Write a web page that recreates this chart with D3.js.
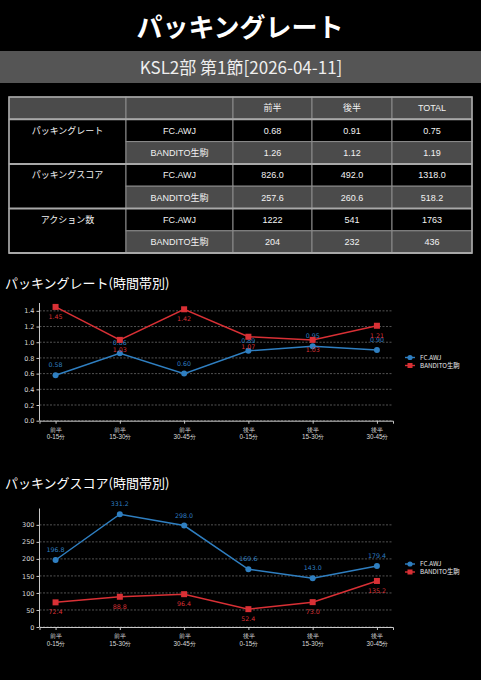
<!DOCTYPE html>
<html lang="ja">
<head>
<meta charset="UTF-8" />
<title>パッキングレート</title>
<style>
  html, body { margin: 0; padding: 0; background: #000; }
  svg { display: block; font-family: "Noto Sans CJK JP", "Noto Sans", sans-serif; }
</style>
</head>
<body>
<svg id="chart" width="481" height="680"></svg>

<script src="https://d3js.org/d3.v7.min.js"></script>
<script>
// ---- data ----
const titleText = 'パッキングレート';
const subtitleText = 'KSL2部 第1節[2026-04-11]';

const tableCols = ['前半', '後半', 'TOTAL'];
const tableMetrics = ['パッキングレート', 'パッキングスコア', 'アクション数'];
const teams = ['FC.AWJ', 'BANDITO生駒'];
const rateRows = [['0.68', '0.91', '0.75'], ['1.26', '1.12', '1.19']];
const scoreRows = [['826.0', '492.0', '1318.0'], ['257.6', '260.6', '518.2']];
const actionRows = [['1222', '541', '1763'], ['204', '232', '436']];

const periods = [['前半', '0-15分'], ['前半', '15-30分'], ['前半', '30-45分'],
                 ['後半', '0-15分'], ['後半', '15-30分'], ['後半', '30-45分']];
const rateAWJ = [0.58, 0.86, 0.60, 0.89, 0.95, 0.90];
const rateBandito = [1.45, 1.03, 1.42, 1.07, 1.03, 1.21];
const scoreAWJ = [196.8, 331.2, 298.0, 169.6, 143.0, 179.4];
const scoreBandito = [72.4, 88.8, 96.4, 52.4, 73.0, 135.2];

const blue = '#2f7fc1';
const red = '#d93035';
const gray = '#4b4b4b';

const svg = d3.select('#chart');
svg.append('rect').attr('width', 481).attr('height', 680).attr('fill', '#000');

// ---- title ----
svg.append('text')
  .attr('x', 240).attr('y', 37)
  .attr('text-anchor', 'middle')
  .attr('fill', '#fff')
  .attr('font-size', 26).attr('font-weight', 'bold')
  .text(titleText);

svg.append('rect').attr('x', 0).attr('y', 51).attr('width', 481).attr('height', 32).attr('fill', '#555');
svg.append('text')
  .attr('x', 241).attr('y', 74)
  .attr('text-anchor', 'middle')
  .attr('fill', '#eee')
  .attr('font-size', 17)
  .text(subtitleText);

// ---- table ----
const colEdges = [9, 126, 233, 312, 392, 472];
const tableTop = 97, rowH = 22.3;
const tableGroups = [rateRows, scoreRows, actionRows];
const rowY = i => tableTop + i * rowH;
const tbl = svg.append('g').attr('font-size', 9).attr('fill', '#fff')
  .attr('font-family', '"Liberation Sans", "Noto Sans CJK JP", sans-serif');
const lineCol = '#8c8c8c';

function cell(x0, x1, y0, y1, fill, label) {
  tbl.append('rect')
    .attr('x', x0).attr('y', y0).attr('width', x1 - x0).attr('height', y1 - y0)
    .attr('fill', fill).attr('stroke', lineCol).attr('stroke-width', 1);
  if (label != null) {
    tbl.append('text')
      .attr('x', (x0 + x1) / 2).attr('y', y0 + rowH / 2 + 3.2)
      .attr('text-anchor', 'middle').attr('fill', '#f2f2f2')
      .text(label);
  }
}

// header row
cell(colEdges[0], colEdges[1], rowY(0), rowY(1), gray, null);
cell(colEdges[1], colEdges[2], rowY(0), rowY(1), gray, null);
tableCols.forEach((c, j) => cell(colEdges[j + 2], colEdges[j + 3], rowY(0), rowY(1), gray, c));

tableGroups.forEach((rows, g) => {
  const r0 = 1 + g * 2;
  cell(colEdges[0], colEdges[1], rowY(r0), rowY(r0 + 2), '#000', tableMetrics[g]);
  rows.forEach((vals, t) => {
    const fill = t === 0 ? '#000' : gray;
    cell(colEdges[1], colEdges[2], rowY(r0 + t), rowY(r0 + t + 1), fill, teams[t]);
    vals.forEach((v, j) => cell(colEdges[j + 2], colEdges[j + 3], rowY(r0 + t), rowY(r0 + t + 1), fill, v));
  });
});
// group separators
d3.range(1, 8, 2).forEach(r => {
  tbl.append('line')
    .attr('x1', colEdges[0]).attr('x2', colEdges[5])
    .attr('y1', rowY(r)).attr('y2', rowY(r))
    .attr('stroke', '#a8a8a8').attr('stroke-width', 2);
});
tbl.append('rect')
  .attr('x', colEdges[0]).attr('y', rowY(0))
  .attr('width', colEdges[5] - colEdges[0]).attr('height', rowY(7) - rowY(0))
  .attr('fill', 'none').attr('stroke', '#a8a8a8').attr('stroke-width', 1.5);

// ---- line charts ----
function drawChart(opt) {
  const g = svg.append('g');
  g.append('text')
    .attr('x', 5).attr('y', opt.titleY)
    .attr('fill', '#fff').attr('font-size', 13)
    .text(opt.title);

  const x = d3.scaleLinear().domain([-0.25, periods.length - 0.75]).range([39.5, 393]);
  const y = d3.scaleLinear().domain([0, opt.yMax]).range([opt.bottom, opt.top]);

  // grid
  g.append('g').selectAll('line')
    .data(opt.ticks)
    .join('line')
    .attr('x1', x.range()[0]).attr('x2', x.range()[1])
    .attr('y1', d => y(d)).attr('y2', d => y(d))
    .attr('stroke', '#8a8a8a').attr('stroke-width', 0.6)
    .attr('stroke-dasharray', '2,1.5');

  const yAxis = g.append('g')
    .attr('transform', `translate(${x.range()[0]},0)`)
    .call(d3.axisLeft(y).tickValues(opt.ticks).tickFormat(d3.format(opt.tickFmt)).tickSize(3).tickPadding(2));
  const xAxis = g.append('g')
    .attr('transform', `translate(0,${opt.bottom})`)
    .call(d3.axisBottom(x).tickValues(d3.range(periods.length)).tickFormat('').tickSize(3));
  [yAxis, xAxis].forEach(a => {
    a.select('.domain').attr('stroke', '#c8c8c8').attr('stroke-width', 1);
    a.selectAll('.tick line').attr('stroke', '#c8c8c8');
    a.selectAll('.tick text').attr('fill', '#d8d8d8').attr('font-size', 6.5)
      .attr('font-family', '"DejaVu Sans", sans-serif');
  });
  yAxis.select('.domain').attr('d', `M0,${opt.bottom}V${opt.top}`);

  // x tick labels, two lines
  xAxis.selectAll('.tick').each(function (d) {
    const t = d3.select(this).append('text')
      .attr('fill', '#d8d8d8').attr('font-size', 6.3).attr('text-anchor', 'middle');
    t.append('tspan').attr('x', 0).attr('y', 11).text(periods[d][0]);
    t.append('tspan').attr('x', 0).attr('y', 18.5).text(periods[d][1]);
  });

  const line = d3.line().x((d, i) => x(i)).y(d => y(d));
  opt.series.forEach(s => {
    g.append('path').datum(s.values)
      .attr('d', line).attr('fill', 'none')
      .attr('stroke', s.color).attr('stroke-width', 1.5);
    if (s.shape === 'circle') {
      g.append('g').selectAll('circle').data(s.values).join('circle')
        .attr('cx', (d, i) => x(i)).attr('cy', d => y(d)).attr('r', 3)
        .attr('fill', s.color);
    } else {
      g.append('g').selectAll('rect').data(s.values).join('rect')
        .attr('x', (d, i) => x(i) - 3).attr('y', d => y(d) - 3)
        .attr('width', 6).attr('height', 6).attr('fill', s.color);
    }
    g.append('g').selectAll('text').data(s.values).join('text')
      .attr('x', (d, i) => x(i))
      .attr('y', d => y(d) + s.labelDy)
      .attr('text-anchor', 'middle')
      .attr('fill', s.color).attr('font-size', 6.3)
      .attr('font-family', '"DejaVu Sans", sans-serif')
      .text(d => d3.format(opt.labelFmt)(d));
  });

  // legend
  const lg = g.append('g').attr('transform', `translate(405,${opt.legendY})`);
  opt.series.forEach((s, i) => {
    const row = lg.append('g').attr('transform', `translate(0,${i * 8})`);
    row.append('line').attr('x1', 0).attr('x2', 10).attr('stroke', s.color).attr('stroke-width', 1.4);
    if (s.shape === 'circle') row.append('circle').attr('cx', 5).attr('r', 2.6).attr('fill', s.color);
    else row.append('rect').attr('x', 2.5).attr('y', -2.5).attr('width', 5).attr('height', 5).attr('fill', s.color);
    row.append('text').attr('x', 15).attr('y', 2.2)
      .attr('fill', '#e8e8e8').attr('font-size', 6.3).text(s.name);
  });
}

drawChart({
  title: 'パッキングレート(時間帯別)',
  titleY: 288,
  top: 303, bottom: 420.7, yMax: 1.5,
  ticks: d3.range(0, 1.41, 0.2), tickFmt: '.1f', labelFmt: '.2f',
  legendY: 357.5,
  series: [
    { name: teams[0], values: rateAWJ, color: blue, shape: 'circle', labelDy: -8 },
    { name: teams[1], values: rateBandito, color: red, shape: 'square', labelDy: 12 }
  ]
});

drawChart({
  title: 'パッキングスコア(時間帯別)',
  titleY: 488,
  top: 508.5, bottom: 627, yMax: 348,
  ticks: d3.range(0, 301, 50), tickFmt: 'd', labelFmt: '.1f',
  legendY: 564,
  series: [
    { name: teams[0], values: scoreAWJ, color: blue, shape: 'circle', labelDy: -8 },
    { name: teams[1], values: scoreBandito, color: red, shape: 'square', labelDy: 12 }
  ]
});
</script>
</body>
</html>
